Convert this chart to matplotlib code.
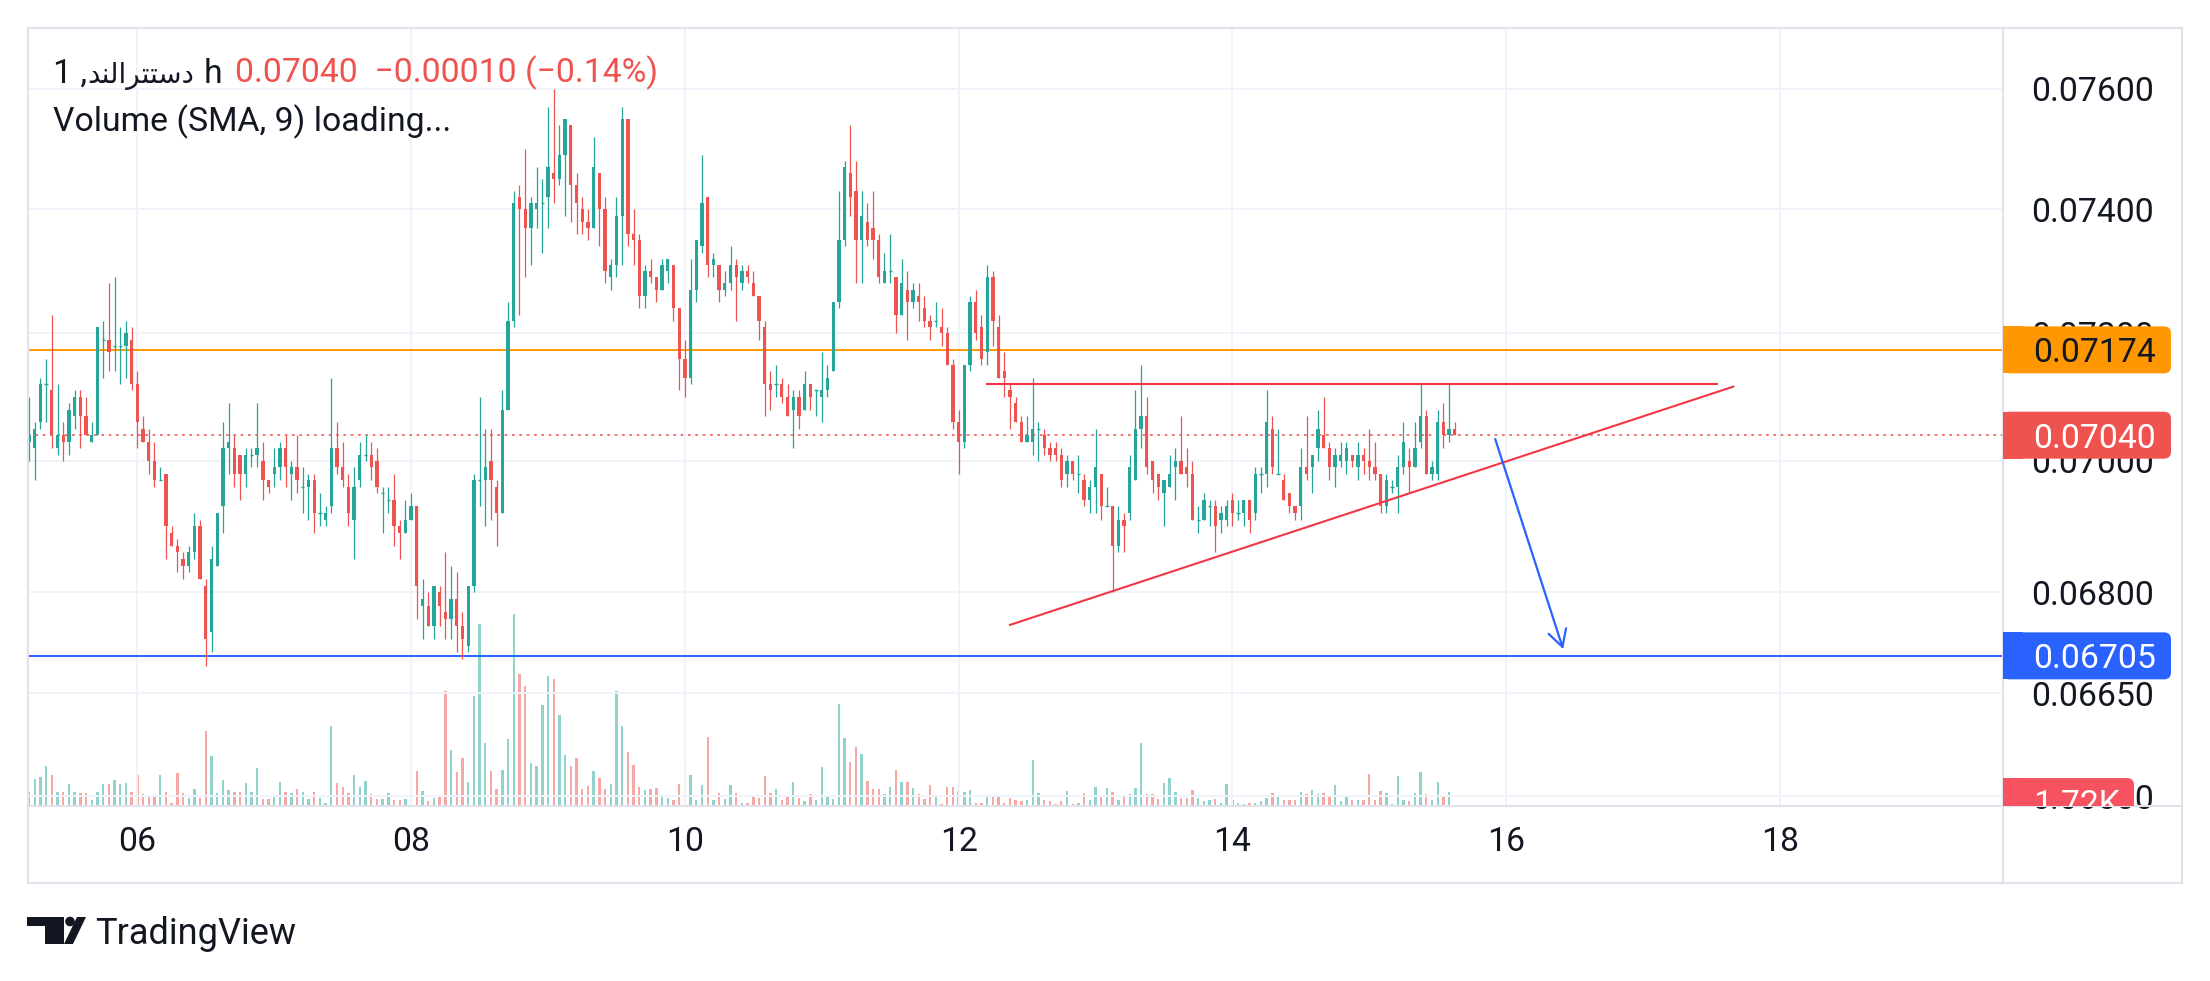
import numpy as np
import pandas as pd
import matplotlib
matplotlib.use('Agg')
import matplotlib.pyplot as plt
import matplotlib.dates as mdates
from matplotlib.patches import FancyBboxPatch, Rectangle, Polygon, Circle
from matplotlib.lines import Line2D
from matplotlib.transforms import IdentityTransform, Bbox
from matplotlib.ticker import FixedLocator, NullLocator, FormatStrFormatter

plt.rcParams['font.family'] = ['Roboto', 'DejaVu Sans']

# hourly candles, first bar 05 05:00
start = '2024-06-05 05:00'

opens = [
    0.0703, 0.0702, 0.0706, 0.0712, 0.0711, 0.0702, 0.0704, 0.0703, 0.0707, 0.0710, 0.0707, 0.0703,
    0.0704, 0.0719, 0.0719, 0.0718, 0.0718, 0.0718, 0.0719, 0.0712, 0.0705, 0.0703, 0.0700, 0.0697,
    0.0698, 0.0689, 0.0687, 0.0685, 0.0684, 0.0686, 0.0690, 0.0681, 0.0674, 0.0684, 0.0693, 0.0702,
    0.0702, 0.0701, 0.0698, 0.0701, 0.0701, 0.0700, 0.0697, 0.0698, 0.0699, 0.0702, 0.0698, 0.0699,
    0.0696, 0.0696, 0.0697, 0.0692, 0.0691, 0.0693, 0.0702, 0.0699, 0.0696, 0.0691, 0.0697, 0.0701,
    0.0701, 0.0700, 0.0695, 0.0694, 0.0694, 0.0690, 0.0689, 0.0691, 0.0693, 0.0678, 0.0678, 0.0675,
    0.0680, 0.0677, 0.0676, 0.0679, 0.0675, 0.0672, 0.0681, 0.0697, 0.0697, 0.0700, 0.0696, 0.0692,
    0.0708, 0.0722, 0.0742, 0.0740, 0.0737, 0.0740, 0.0741, 0.0742, 0.0746, 0.0745, 0.0749, 0.0754,
    0.0744, 0.0740, 0.0738, 0.0737, 0.0746, 0.0740, 0.0729, 0.0731, 0.0739, 0.0755, 0.0736, 0.0735,
    0.0726, 0.0730, 0.0729, 0.0727, 0.0730, 0.0731, 0.0724, 0.0716, 0.0713, 0.0727, 0.0734, 0.0742,
    0.0731, 0.0731, 0.0727, 0.0728, 0.0731, 0.0728, 0.0730, 0.0728, 0.0726, 0.0721, 0.0712, 0.0712,
    0.0712, 0.0710, 0.0708, 0.0710, 0.0708, 0.0712, 0.0711, 0.0710, 0.0711, 0.0714, 0.0725, 0.0735,
    0.0746, 0.0743, 0.0735, 0.0738, 0.0737, 0.0735, 0.0728, 0.0730, 0.0729, 0.0723, 0.0727, 0.0725,
    0.0726, 0.0724, 0.0722, 0.0722, 0.0721, 0.0720, 0.0715, 0.0706, 0.0703, 0.0715, 0.0725, 0.0721,
    0.0717, 0.0729, 0.0721, 0.0714, 0.0711, 0.0709, 0.0706, 0.0703, 0.0703, 0.0705, 0.0704, 0.0702,
    0.0702, 0.0701, 0.0698, 0.0700, 0.0698, 0.0697, 0.0694, 0.0696, 0.0698, 0.0693, 0.0693, 0.0687,
    0.0691, 0.0692, 0.0697, 0.0705, 0.0707, 0.0700, 0.0698, 0.0695, 0.0696, 0.0699, 0.0700, 0.0699,
    0.0698, 0.0691, 0.0691, 0.0693, 0.0693, 0.0691, 0.0691, 0.0694, 0.0692, 0.0692, 0.0694, 0.0692,
    0.0698, 0.0698, 0.0705, 0.0698, 0.0697, 0.0695, 0.0693, 0.0693, 0.0699, 0.0699, 0.0702, 0.0704,
    0.0702, 0.0699, 0.0700, 0.0700, 0.0701, 0.0699, 0.0701, 0.0700, 0.0699, 0.0698, 0.0693, 0.0696,
    0.0696, 0.0699, 0.0700, 0.0699, 0.0703, 0.0707, 0.0698, 0.0698, 0.0706, 0.0704, 0.0705,
]
highs = [
    0.0710, 0.0706, 0.0713, 0.0716, 0.0723, 0.0712, 0.0706, 0.0709, 0.0711, 0.0711, 0.0710, 0.0706,
    0.0721, 0.0722, 0.0728, 0.0729, 0.0721, 0.0722, 0.0721, 0.0714, 0.0707, 0.0705, 0.0703, 0.0699,
    0.0698, 0.0690, 0.0688, 0.0686, 0.0687, 0.0692, 0.0691, 0.0682, 0.0687, 0.0692, 0.0706, 0.0709,
    0.0704, 0.0701, 0.0702, 0.0702, 0.0709, 0.0703, 0.0697, 0.0702, 0.0703, 0.0704, 0.0700, 0.0704,
    0.0699, 0.0698, 0.0698, 0.0695, 0.0693, 0.0713, 0.0706, 0.0703, 0.0698, 0.0699, 0.0703, 0.0704,
    0.0703, 0.0702, 0.0696, 0.0696, 0.0698, 0.0691, 0.0694, 0.0695, 0.0693, 0.0682, 0.0680, 0.0681,
    0.0681, 0.0686, 0.0684, 0.0683, 0.0677, 0.0681, 0.0698, 0.0710, 0.0705, 0.0705, 0.0697, 0.0711,
    0.0725, 0.0743, 0.0744, 0.0750, 0.0742, 0.0747, 0.0745, 0.0757, 0.0760, 0.0754, 0.0755, 0.0754,
    0.0746, 0.0742, 0.0740, 0.0752, 0.0746, 0.0742, 0.0732, 0.0742, 0.0757, 0.0755, 0.0740, 0.0736,
    0.0731, 0.0732, 0.0729, 0.0732, 0.0732, 0.0731, 0.0724, 0.0719, 0.0732, 0.0735, 0.0749, 0.0742,
    0.0733, 0.0731, 0.0730, 0.0734, 0.0732, 0.0731, 0.0731, 0.0730, 0.0726, 0.0722, 0.0714, 0.0715,
    0.0713, 0.0712, 0.0711, 0.0711, 0.0714, 0.0712, 0.0711, 0.0717, 0.0715, 0.0725, 0.0743, 0.0748,
    0.0754, 0.0748, 0.0743, 0.0741, 0.0743, 0.0736, 0.0733, 0.0736, 0.0729, 0.0732, 0.0730, 0.0728,
    0.0728, 0.0726, 0.0723, 0.0725, 0.0724, 0.0721, 0.0716, 0.0708, 0.0715, 0.0726, 0.0727, 0.0723,
    0.0731, 0.0730, 0.0723, 0.0717, 0.0712, 0.0710, 0.0707, 0.0707, 0.0713, 0.0706, 0.0705, 0.0703,
    0.0703, 0.0702, 0.0701, 0.0700, 0.0701, 0.0698, 0.0697, 0.0705, 0.0698, 0.0696, 0.0693, 0.0693,
    0.0692, 0.0701, 0.0711, 0.0715, 0.0710, 0.0700, 0.0698, 0.0697, 0.0701, 0.0702, 0.0707, 0.0702,
    0.0700, 0.0693, 0.0695, 0.0694, 0.0694, 0.0693, 0.0694, 0.0695, 0.0694, 0.0694, 0.0694, 0.0699,
    0.0699, 0.0711, 0.0707, 0.0705, 0.0698, 0.0695, 0.0693, 0.0702, 0.0707, 0.0701, 0.0708, 0.0710,
    0.0703, 0.0702, 0.0703, 0.0703, 0.0701, 0.0703, 0.0702, 0.0705, 0.0703, 0.0698, 0.0698, 0.0697,
    0.0701, 0.0706, 0.0702, 0.0706, 0.0712, 0.0708, 0.0700, 0.0708, 0.0709, 0.0712, 0.0706,
]
lows = [
    0.0700, 0.0697, 0.0705, 0.0706, 0.0702, 0.0701, 0.0700, 0.0701, 0.0705, 0.0702, 0.0704, 0.0703,
    0.0704, 0.0713, 0.0714, 0.0714, 0.0712, 0.0713, 0.0711, 0.0702, 0.0703, 0.0698, 0.0696, 0.0697,
    0.0685, 0.0687, 0.0683, 0.0682, 0.0683, 0.0685, 0.0682, 0.0669, 0.0671, 0.0684, 0.0689, 0.0698,
    0.0696, 0.0694, 0.0696, 0.0699, 0.0699, 0.0694, 0.0695, 0.0696, 0.0697, 0.0696, 0.0694, 0.0695,
    0.0692, 0.0691, 0.0689, 0.0690, 0.0690, 0.0692, 0.0698, 0.0696, 0.0690, 0.0685, 0.0696, 0.0700,
    0.0697, 0.0695, 0.0689, 0.0692, 0.0687, 0.0685, 0.0689, 0.0691, 0.0676, 0.0673, 0.0675, 0.0673,
    0.0675, 0.0673, 0.0673, 0.0671, 0.0670, 0.0671, 0.0680, 0.0693, 0.0690, 0.0691, 0.0687, 0.0692,
    0.0708, 0.0721, 0.0723, 0.0729, 0.0731, 0.0737, 0.0733, 0.0737, 0.0741, 0.0744, 0.0739, 0.0738,
    0.0736, 0.0736, 0.0735, 0.0737, 0.0734, 0.0728, 0.0727, 0.0729, 0.0731, 0.0734, 0.0731, 0.0724,
    0.0724, 0.0728, 0.0725, 0.0727, 0.0728, 0.0722, 0.0711, 0.0710, 0.0712, 0.0725, 0.0733, 0.0729,
    0.0729, 0.0725, 0.0726, 0.0727, 0.0722, 0.0727, 0.0728, 0.0726, 0.0719, 0.0707, 0.0708, 0.0710,
    0.0709, 0.0707, 0.0702, 0.0705, 0.0708, 0.0708, 0.0707, 0.0706, 0.0710, 0.0714, 0.0724, 0.0734,
    0.0739, 0.0728, 0.0728, 0.0734, 0.0732, 0.0728, 0.0728, 0.0728, 0.0720, 0.0723, 0.0719, 0.0724,
    0.0722, 0.0721, 0.0719, 0.0721, 0.0718, 0.0715, 0.0705, 0.0698, 0.0702, 0.0714, 0.0719, 0.0715,
    0.0715, 0.0718, 0.0713, 0.0710, 0.0705, 0.0706, 0.0703, 0.0703, 0.0701, 0.0700, 0.0701, 0.0700,
    0.0700, 0.0696, 0.0696, 0.0697, 0.0695, 0.0693, 0.0692, 0.0692, 0.0691, 0.0693, 0.0680, 0.0686,
    0.0686, 0.0691, 0.0697, 0.0702, 0.0698, 0.0695, 0.0694, 0.0690, 0.0696, 0.0694, 0.0698, 0.0696,
    0.0691, 0.0689, 0.0691, 0.0690, 0.0686, 0.0689, 0.0690, 0.0690, 0.0691, 0.0690, 0.0689, 0.0691,
    0.0695, 0.0696, 0.0698, 0.0698, 0.0694, 0.0692, 0.0691, 0.0691, 0.0697, 0.0695, 0.0700, 0.0702,
    0.0697, 0.0696, 0.0699, 0.0698, 0.0699, 0.0697, 0.0698, 0.0697, 0.0697, 0.0692, 0.0692, 0.0695,
    0.0692, 0.0698, 0.0695, 0.0699, 0.0702, 0.0698, 0.0697, 0.0697, 0.0702, 0.0703, 0.0704,
]
closes = [
    0.0704, 0.0705, 0.0712, 0.0712, 0.0704, 0.0704, 0.0703, 0.0708, 0.0710, 0.0707, 0.0704, 0.0704,
    0.0721, 0.0719, 0.0717, 0.0718, 0.0718, 0.0720, 0.0712, 0.0706, 0.0703, 0.0700, 0.0697, 0.0697,
    0.0690, 0.0687, 0.0686, 0.0684, 0.0686, 0.0690, 0.0682, 0.0673, 0.0685, 0.0692, 0.0702, 0.0703,
    0.0698, 0.0698, 0.0701, 0.0701, 0.0702, 0.0697, 0.0696, 0.0699, 0.0702, 0.0699, 0.0699, 0.0697,
    0.0696, 0.0697, 0.0692, 0.0692, 0.0692, 0.0702, 0.0699, 0.0697, 0.0692, 0.0696, 0.0701, 0.0701,
    0.0699, 0.0696, 0.0695, 0.0694, 0.0690, 0.0689, 0.0691, 0.0693, 0.0681, 0.0679, 0.0675, 0.0681,
    0.0678, 0.0676, 0.0679, 0.0675, 0.0673, 0.0681, 0.0697, 0.0697, 0.0699, 0.0697, 0.0692, 0.0708,
    0.0722, 0.0741, 0.0740, 0.0737, 0.0741, 0.0741, 0.0741, 0.0747, 0.0745, 0.0749, 0.0755, 0.0744,
    0.0741, 0.0738, 0.0737, 0.0747, 0.0740, 0.0730, 0.0731, 0.0739, 0.0755, 0.0736, 0.0735, 0.0726,
    0.0730, 0.0729, 0.0727, 0.0731, 0.0732, 0.0724, 0.0716, 0.0713, 0.0727, 0.0735, 0.0741, 0.0731,
    0.0732, 0.0727, 0.0728, 0.0731, 0.0729, 0.0730, 0.0729, 0.0726, 0.0722, 0.0712, 0.0711, 0.0712,
    0.0710, 0.0707, 0.0710, 0.0707, 0.0712, 0.0710, 0.0711, 0.0711, 0.0713, 0.0725, 0.0735, 0.0747,
    0.0742, 0.0735, 0.0739, 0.0735, 0.0735, 0.0729, 0.0730, 0.0730, 0.0723, 0.0728, 0.0725, 0.0727,
    0.0725, 0.0722, 0.0721, 0.0722, 0.0720, 0.0715, 0.0706, 0.0703, 0.0715, 0.0725, 0.0720, 0.0716,
    0.0729, 0.0722, 0.0713, 0.0713, 0.0710, 0.0706, 0.0703, 0.0704, 0.0705, 0.0705, 0.0702, 0.0701,
    0.0701, 0.0697, 0.0700, 0.0698, 0.0698, 0.0694, 0.0696, 0.0699, 0.0693, 0.0693, 0.0687, 0.0691,
    0.0690, 0.0699, 0.0705, 0.0707, 0.0699, 0.0697, 0.0696, 0.0697, 0.0698, 0.0700, 0.0698, 0.0698,
    0.0691, 0.0691, 0.0694, 0.0693, 0.0690, 0.0692, 0.0693, 0.0692, 0.0692, 0.0694, 0.0691, 0.0698,
    0.0698, 0.0706, 0.0699, 0.0698, 0.0694, 0.0693, 0.0692, 0.0699, 0.0698, 0.0701, 0.0705, 0.0702,
    0.0699, 0.0701, 0.0701, 0.0702, 0.0700, 0.0701, 0.0700, 0.0699, 0.0698, 0.0693, 0.0697, 0.0696,
    0.0699, 0.0703, 0.0699, 0.0702, 0.0707, 0.0698, 0.0699, 0.0706, 0.0704, 0.0705, 0.0704,
]
# volume in thousands
volumes = [
    17.2, 32.7, 34.4, 48.1, 36.7, 17.2, 17.2, 25.8, 17.2, 15.5, 15.5, 6.9,
    17.2, 25.8, 25.8, 30.9, 25.8, 27.5, 17.2, 36.7, 14.3, 11.5, 11.5, 36.7,
    17.2, 4.0, 39.5, 15.5, 9.7, 20.1, 9.7, 88.8, 59.6, 15.5, 30.9, 19.5,
    17.2, 17.2, 27.5, 17.2, 45.8, 8.6, 8.6, 12.6, 28.1, 17.2, 15.5, 20.1,
    17.2, 8.6, 17.2, 9.7, 4.0, 95.7, 26.9, 22.9, 15.5, 37.2, 22.9, 29.8,
    13.8, 8.6, 8.6, 15.5, 6.9, 6.9, 8.6, 5.7, 41.3, 18.3, 5.7, 9.7,
    12.6, 137.0, 67.0, 40.1, 57.3, 28.1, 131.2, 217.2, 75.6, 41.3, 20.1, 43.0,
    80.2, 229.2, 157.0, 143.3, 51.6, 48.1, 120.3, 154.7, 151.8, 108.3, 60.2, 48.1,
    57.3, 20.1, 24.1, 41.3, 33.8, 20.1, 25.8, 137.0, 95.7, 64.2, 48.7, 22.9,
    19.5, 20.1, 21.2, 12.6, 9.7, 6.9, 25.8, 54.4, 37.2, 6.9, 25.2, 82.5,
    6.9, 15.5, 8.6, 25.2, 15.5, 4.0, 4.0, 11.5, 9.7, 35.5, 15.5, 20.1,
    6.9, 11.5, 28.7, 9.7, 5.7, 14.3, 6.9, 47.0, 11.5, 8.6, 121.5, 81.4,
    52.7, 69.9, 62.5, 29.8, 20.1, 20.1, 13.8, 22.9, 42.4, 28.7, 28.7, 21.2,
    13.8, 8.6, 25.2, 11.5, 2.9, 22.3, 22.3, 18.3, 17.2, 19.5, 4.0, 4.0,
    12.6, 12.6, 12.6, 4.0, 9.7, 6.9, 5.7, 6.9, 54.4, 15.5, 6.9, 5.7,
    2.9, 5.7, 18.3, 2.9, 4.0, 15.5, 6.9, 22.9, 12.6, 21.2, 17.2, 6.9,
    11.5, 14.3, 21.2, 75.6, 14.3, 14.3, 8.6, 26.9, 33.8, 17.2, 9.7, 9.7,
    19.5, 9.7, 5.7, 6.9, 8.6, 4.0, 25.8, 6.9, 4.0, 2.9, 4.0, 4.0,
    5.7, 9.7, 15.5, 11.5, 6.9, 6.9, 6.9, 17.2, 14.3, 19.5, 14.3, 15.5,
    11.5, 25.2, 5.7, 11.5, 6.9, 6.9, 6.9, 38.4, 6.9, 18.3, 15.5, 2.9,
    35.5, 6.9, 5.7, 15.5, 40.1, 14.3, 6.9, 28.1, 11.5, 17.2, 1.72,
]

# horizontal levels
level_orange = 0.07174
level_blue = 0.06705
last_price = 0.07040
change = -0.00010
change_pct = -0.14

# drawings: (time, price)
resist_line = [('2024-06-12 05:00', 0.0712), ('2024-06-17 13:00', 0.0712)]
trend_line = [('2024-06-12 09:00', 0.06751), ('2024-06-17 15:50', 0.07116)]
arrow_pts = [('2024-06-15 22:05', 0.07034), ('2024-06-16 10:00', 0.06715)]

price_ticks = [0.0760, 0.0740, 0.0720, 0.0700, 0.0680, 0.0665, 0.0650]
day_ticks = ['2024-06-06', '2024-06-08', '2024-06-10', '2024-06-12',
             '2024-06-14', '2024-06-16', '2024-06-18']

symbol = '\ufeaa\ufee8\ufedf\ufe8d\ufeae\ufe98\ufe98\ufeb3\ufea9'   # shaped, visual order

UP, DOWN = '#26a69a', '#ef5350'
TXT = '#131722'
FRAME = '#e0e3eb'
FS = 24.3

W, H = 2210, 981
fig = plt.figure(figsize=(W / 100, H / 100), dpi=100)
fig.patch.set_facecolor('white')

def frac(x, y):
    return x / W, 1 - y / H

L, R, T, B = 28, 2003, 28, 806
ax_v = fig.add_axes([L / W, 1 - B / H, (R - L) / W, (B - T) / H])
ax = ax_v.twinx()
ax.set_zorder(2)
ax_v.set_zorder(1)
ax.patch.set_visible(False)

times = pd.date_range(start, periods=len(opens), freq='h')
x = mdates.date2num(times)
o, h, l, c = map(np.array, (opens, highs, lows, closes))
up = c >= o
cols = np.where(up, UP, DOWN)

hour = 1 / 24
x0 = mdates.date2num(pd.Timestamp(start)) - 0.18 * hour
ax.set_xlim(x0, x0 + 346.3 * hour)
ax.set_yscale('log')
ax.set_ylim(0.064862, 0.077028)

# volume
ax_v.bar(x, volumes, width=0.42 * hour, color=cols, alpha=0.5, linewidth=0)
ax_v.set_ylim(0, 927)
ax_v.yaxis.set_visible(False)

# candles
ax.vlines(x, l, h, colors=cols, linewidth=0.9, zorder=3)
ax.bar(x, np.abs(c - o), bottom=np.minimum(o, c), width=0.58 * hour,
       color=cols, linewidth=0, zorder=4)
doji = c == o
ax.hlines(o[doji], x[doji] - 0.29 * hour, x[doji] + 0.29 * hour,
          colors=cols[doji], linewidth=1.0, zorder=4)

# levels
ax.axhline(level_orange, color='#ff9800', lw=1.4, zorder=2)
ax.axhline(level_blue, color='#2962ff', lw=1.4, zorder=2)
ax.axhline(last_price, color=DOWN, lw=1.1, ls=(0, (1.8, 3.0)), zorder=2)

def seg(pts):
    return [mdates.date2num(pd.Timestamp(t)) for t, _ in pts], [p for _, p in pts]

xs, ys = seg(resist_line)
ax.plot(xs, ys, color='#f23645', lw=1.5, zorder=5)
xs, ys = seg(trend_line)
ax.plot(xs, ys, color='#f23645', lw=1.5, zorder=5)
xs, ys = seg(arrow_pts)
ax.annotate('', xy=(xs[1], ys[1]), xytext=(xs[0], ys[0]),
            arrowprops=dict(arrowstyle='->,head_length=0.6,head_width=0.33',
                            mutation_scale=20, color='#2962ff', lw=1.6,
                            shrinkA=0, shrinkB=0), zorder=5)

# axes styling
for a in (ax, ax_v):
    for s in a.spines.values():
        s.set_visible(False)
ax.yaxis.tick_right()
ax.yaxis.set_major_locator(FixedLocator(price_ticks))
ax.yaxis.set_minor_locator(NullLocator())
ax.yaxis.set_major_formatter(FormatStrFormatter('%.5f'))
ax.tick_params(axis='y', which='both', length=0, pad=20.3, labelsize=FS, labelcolor=TXT)
ax_v.xaxis.set_major_locator(FixedLocator(mdates.date2num(pd.to_datetime(day_ticks))))
ax_v.xaxis.set_major_formatter(mdates.DateFormatter('%d'))
ax_v.tick_params(axis='x', length=0, pad=14.5, labelsize=FS, labelcolor=TXT)
ax_v.grid(axis='x', color='#f0f3fa', lw=1.4)
ax.grid(axis='y', color='#f0f3fa', lw=1.4, zorder=0)
ax.grid(axis='x', visible=False)

# frame
for (xa, ya), (xb, yb) in [((L, T), (2182, T)), ((L, T), (L, 883)), ((L, 883), (2182, 883)),
                           ((2182, T), (2182, 883)), ((R, T), (R, 883)), ((L, B), (2182, B))]:
    fa, fb = frac(xa, ya), frac(xb, yb)
    fig.add_artist(Line2D([fa[0], fb[0]], [fa[1], fb[1]], color=FRAME, lw=1.5, zorder=2.5))

# price tags
idt = IdentityTransform()
pane_clip = Bbox.from_extents(R, H - B, 2182, H - T)

def tag(ypix, label, face, tcolor, width=168, clip=False):
    box = FancyBboxPatch((R, ypix - 23.5), width, 47, boxstyle='round,pad=0,rounding_size=7',
                         fc=face, ec='none', transform=idt, zorder=3)
    sq = Rectangle((R, ypix - 23.5), 20, 47, fc=face, ec='none', transform=idt, zorder=3)
    t = fig.text(2033, ypix, label, transform=idt, color=tcolor, fontsize=FS,
                 va='center_baseline', ha='left', zorder=4)
    for art in (box, sq):
        fig.add_artist(art)
    if clip:
        for art in (box, sq, t):
            art.set_clip_box(pane_clip)
            art.set_clip_on(True)

def ypx(a, v):
    return a.transData.transform((x[0], v))[1]

tag(ypx(ax, level_orange), f'{level_orange:.5f}', '#ff9800', TXT)
tag(ypx(ax, last_price), f'{last_price:.5f}', DOWN, 'white')
tag(ypx(ax, level_blue), f'{level_blue:.5f}', '#2962ff', 'white')
tag(ypx(ax_v, volumes[-1]) + 3, f'{volumes[-1]:.2f}K', '#f7525f', 'white', width=131, clip=True)

# header
fig.text(*frac(53, 82.7), '1 ,', fontsize=FS, color=TXT, va='baseline')
fig.text(*frac(87, 82.7), symbol, fontsize=20, color=TXT, va='baseline')
fig.text(*frac(204, 82.7), 'h', fontsize=FS, color=TXT, va='baseline')
fig.text(*frac(235, 82.7),
         f'{last_price:.5f}  \u2212{abs(change):.5f} (\u2212{abs(change_pct):.2f}%)',
         fontsize=FS, color=DOWN, va='baseline')
fig.text(*frac(53, 131), 'Volume (SMA, 9) loading...', fontsize=FS, color=TXT, va='baseline')

# TradingView logo
logo = [(27, 917), (64, 917), (64, 944), (45, 944), (45, 926), (27, 926)]
fig.add_artist(Polygon([frac(px, py) for px, py in logo], closed=True, fc=TXT, ec='none'))
fig.add_artist(Circle((70, H - 921.5), 4.8, fc=TXT, ec='none', transform=idt))
slash = [(77, 917), (86, 917), (73, 944), (64, 944)]
fig.add_artist(Polygon([frac(px, py) for px, py in slash], closed=True, fc=TXT, ec='none'))
fig.text(*frac(95, 944), 'TradingView', fontsize=26, color=TXT, va='baseline')

fig.savefig('out.png', dpi=100, facecolor='white')
